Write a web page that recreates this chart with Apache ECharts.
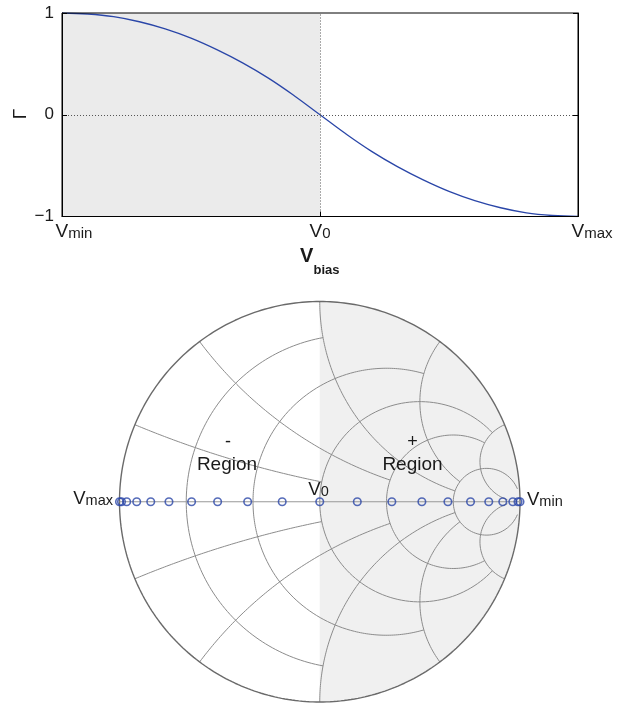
<!DOCTYPE html>
<html><head><meta charset="utf-8">
<script src="https://cdn.jsdelivr.net/npm/echarts@6/dist/echarts.min.js"></script>
<style>html,body{margin:0;padding:0;background:#fff}#c{width:635px;height:704px}</style>
</head><body><div id="c"></div>
<script>
// ---- data ----
const biasSteps = [0,1,2,3,4,5,6,7,8,9,10,11,12,13,14,15,16,17,18,19,20];
const gamma = [1, 0.99, 0.964, 0.914, 0.844, 0.753, 0.64, 0.51, 0.36, 0.1875, 0,
  -0.1875, -0.36, -0.51, -0.64, -0.753, -0.844, -0.914, -0.964, -0.99, -1];
const biasTicks = [0, 10, 20];
const biasTickMain = ['V', 'V', 'V'];
const biasTickSub = ['min', '0', 'max'];
const gammaTicks = [-1, 0, 1];
const gammaTickLabels = ['\u22121', '0', '1'];
// Smith chart grid definition (value, drawn up to the crossing family value)
const resistanceValues = [0.2, 0.5, 1, 2, 5];
const resistanceLimits = [1, 2, 5, 5, 30];
const reactanceValues = [0.2, 0.5, 1, 2, 5];
const reactanceLimits = [1, 2, 5, 5, 30];

const FONT = '"Liberation Sans", Arial, Helvetica, sans-serif';
const BLUE = '#2a46a8';
const GRIDC = '#8c8c8c';
const TXT = '#1a1a1a';

function gam(r, x) {
  const den = (r + 1) * (r + 1) + x * x;
  return [(r * r + x * x - 1) / den, 2 * x / den];
}
function rCircle(r, xEnd) {
  const c = r / (1 + r), rho = 1 / (1 + r);
  const e = gam(r, xEnd);
  const pe = Math.atan2(e[1], e[0] - c);
  const pts = [], N = 240;
  for (let i = 0; i <= N; i++) {
    const p = pe + (2 * Math.PI - 2 * pe) * i / N;
    pts.push([c + rho * Math.cos(p), rho * Math.sin(p)]);
  }
  return pts;
}
function xArc(x, rEnd, sign) {
  const cy = 1 / x, rad = 1 / x;
  const norm = a => (a < -Math.PI / 2 ? a + 2 * Math.PI : a);
  const p0 = gam(0, x), p1 = gam(rEnd, x);
  const a0 = norm(Math.atan2(p0[1] - cy, p0[0] - 1));
  const a1 = norm(Math.atan2(p1[1] - cy, p1[0] - 1));
  const pts = [], N = 240;
  for (let i = 0; i <= N; i++) {
    const a = a0 + (a1 - a0) * i / N;
    pts.push([1 + rad * Math.cos(a), sign * (cy + rad * Math.sin(a))]);
  }
  return pts;
}
function lineSeries(pts, color, width, z) {
  return { type: 'line', xAxisIndex: 1, yAxisIndex: 1, data: pts, showSymbol: false, symbol: 'none',
    silent: true, clip: false, z: z, animation: false, lineStyle: { color: color, width: width } };
}

const smithSeries = [];
resistanceValues.forEach((r, i) => smithSeries.push(lineSeries(rCircle(r, resistanceLimits[i]), GRIDC, 1, 1)));
reactanceValues.forEach((x, i) => {
  smithSeries.push(lineSeries(xArc(x, reactanceLimits[i], 1), GRIDC, 1, 1));
  smithSeries.push(lineSeries(xArc(x, reactanceLimits[i], -1), GRIDC, 1, 1));
});
const outer = [];
for (let i = 0; i <= 360; i++) { const a = Math.PI * 2 * i / 360; outer.push([Math.cos(a), Math.sin(a)]); }
smithSeries.push(lineSeries(outer, '#6a6a6a', 1.4, 2));
smithSeries.push(lineSeries([[-1, 0], [1, 0]], '#999999', 1.2, 2));

const richTick = {
  v: { fontSize: 19, fontFamily: FONT, color: TXT, verticalAlign: 'bottom' },
  s: { fontSize: 15, fontFamily: FONT, color: TXT, verticalAlign: 'bottom' },
  p0: { width: 24 }, p1: { width: 0 }, p2: { width: 28 }
};
const richV = {
  v: { fontSize: 18.5, fontFamily: FONT, fill: TXT, verticalAlign: 'bottom' },
  s: { fontSize: 14.5, fontFamily: FONT, fill: TXT, verticalAlign: 'bottom' }
};
function txt(x, y, text, extra) {
  return Object.assign({ type: 'text', x: x, y: y, z: 100, zlevel: 0,
    style: Object.assign({ text: text, fontSize: 18.5, fontFamily: FONT, fill: TXT, align: 'center', verticalAlign: 'middle' }, extra && extra.style) },
    extra && extra.el);
}

const chart = echarts.init(document.getElementById('c'), null, { renderer: 'canvas' });
chart.setOption({
  animation: false,
  backgroundColor: '#ffffff',
  grid: [
    { left: 62, top: 13, width: 516, height: 203.5, show: true, borderColor: '#000', borderWidth: 1,
      containLabel: false, outerBoundsMode: 'none', z: 10 },
    { left: 119.5, top: 301.5, width: 400.5, height: 400.5, show: false,
      containLabel: false, outerBoundsMode: 'none' }
  ],
  xAxis: [
    { type: 'value', gridIndex: 0, min: 0, max: 20, interval: 10, z: 10,
      axisLine: { show: true, onZero: false, lineStyle: { color: '#000', width: 1 } },
      axisTick: { show: true, inside: true, length: 5, lineStyle: { color: '#000' } },
      splitLine: { show: false },
      axisLabel: { margin: 6, formatter: v => { const i = biasTicks.indexOf(v); return '{p' + i + '| }{v|' + biasTickMain[i] + '}{s|' + biasTickSub[i] + '}'; }, rich: richTick }
    },
    { type: 'value', gridIndex: 1, min: -1, max: 1, show: false }
  ],
  yAxis: [
    { type: 'value', gridIndex: 0, min: -1, max: 1, interval: 1, z: 10,
      axisLine: { show: true, onZero: false, lineStyle: { color: '#000', width: 1 } },
      axisTick: { show: true, inside: true, length: 5, lineStyle: { color: '#000' } },
      splitLine: { show: false },
      axisLabel: { margin: 8, fontSize: 17, fontFamily: FONT, color: TXT,
        formatter: v => gammaTickLabels[gammaTicks.indexOf(v)] }
    },
    { type: 'value', gridIndex: 1, min: -1, max: 1, show: false },
    { type: 'value', gridIndex: 0, min: -1, max: 1, interval: 1, position: 'right', z: 10,
      axisLine: { show: true, onZero: false, lineStyle: { color: '#000', width: 1 } },
      axisTick: { show: true, inside: true, length: 5, lineStyle: { color: '#000' } },
      axisLabel: { show: false }, splitLine: { show: false } }
  ],
  series: [
    { type: 'line', xAxisIndex: 0, yAxisIndex: 0, data: [], z: 1, silent: true,
      markArea: { silent: true, itemStyle: { color: '#ebebeb' }, data: [[{ xAxis: biasTicks[0] }, { xAxis: biasTicks[1] }]] } },
    { type: 'line', xAxisIndex: 0, yAxisIndex: 0, z: 3, silent: true, showSymbol: false, symbol: 'none',
      smooth: 0.4, data: biasSteps.map((v, i) => [v, gamma[i]]), lineStyle: { color: BLUE, width: 1.3 },
      markLine: { silent: true, symbol: ['none', 'none'], label: { show: false },
        lineStyle: { color: '#555', width: 1, type: [1, 2] },
        data: [{ yAxis: gammaTicks[1] }, { xAxis: biasTicks[1] }] } },
    { type: 'custom', xAxisIndex: 1, yAxisIndex: 1, z: 0, silent: true, clip: false, data: [[0, 0]],
      renderItem: (params, api) => {
        const pts = [];
        for (let i = 0; i <= 180; i++) { const a = -Math.PI / 2 + Math.PI * i / 180; pts.push(api.coord([Math.cos(a), Math.sin(a)])); }
        return { type: 'polygon', shape: { points: pts }, style: { fill: '#f0f0f0' } };
      } },
    ...smithSeries,
    { type: 'scatter', xAxisIndex: 1, yAxisIndex: 1, z: 5, silent: true, clip: false,
      symbol: 'circle', symbolSize: 7.5,
      itemStyle: { color: 'rgba(255,255,255,0)', borderColor: BLUE, borderWidth: 1.6 },
      data: gamma.map(g => [g, 0]) }
  ],
  graphic: { elements: [
    txt(21, 114, '\u0393', { el: { rotation: Math.PI / 2 }, style: { fontSize: 19 } }),
    txt(300, 256, 'V', { style: { fontSize: 20, fontWeight: 'bold', align: 'left' } }),
    txt(313.5, 270, 'bias', { style: { fontSize: 13, fontWeight: 'bold', align: 'left' } }),
    txt(318.5, 489.5, '{v|V}{s|0}', { style: { rich: richV } }),
    txt(113, 499, '{v|V}{s|max}', { style: { rich: richV, align: 'right' } }),
    txt(527, 499.5, '{v|V}{s|min}', { style: { rich: richV, align: 'left' } }),
    txt(228, 442, '-', { style: { fontSize: 18 } }),
    txt(227, 464.5, 'Region', { style: { fontSize: 19 } }),
    txt(412.5, 442, '+', { style: { fontSize: 18 } }),
    txt(412.5, 464.5, 'Region', { style: { fontSize: 19 } })
  ] }
});
</script>
</body></html>
